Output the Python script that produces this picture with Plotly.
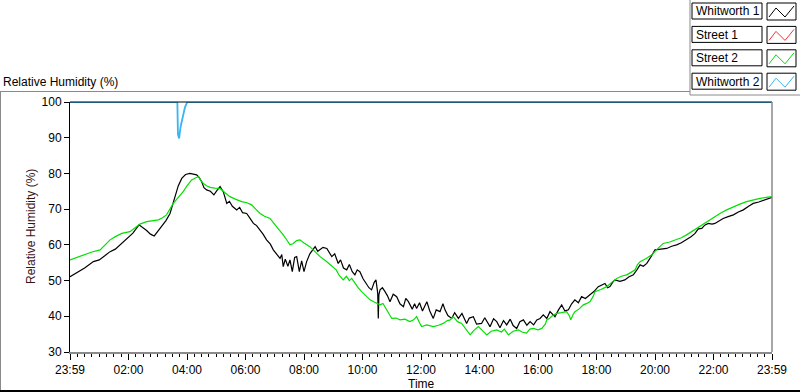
import plotly.graph_objects as go

# ---------------- data ----------------
series_names = ["Whitworth 1", "Street 1", "Street 2", "Whitworth 2"]
series_colors = ["#000000", "#ff3030", "#00e000", "#3ab4f2"]
series_widths = [1.2, 1.2, 1.2, 1.8]

x_tick_vals = [0, 2, 4, 6, 8, 10, 12, 14, 16, 18, 20, 22, 24]
x_tick_text = ["23:59", "02:00", "04:00", "06:00", "08:00", "10:00", "12:00",
               "14:00", "16:00", "18:00", "20:00", "22:00", "23:59"]
y_tick_vals = [30, 40, 50, 60, 70, 80, 90, 100]

# Whitworth 1 (black)
w1_t = [0.00, 0.25, 0.50, 0.80, 1.00, 1.20, 1.37, 1.55, 1.75, 1.94, 2.15, 2.36, 2.50, 2.62, 2.75, 2.88,
        3.00, 3.13, 3.28, 3.42, 3.59, 3.70, 3.82, 3.95, 4.10, 4.22, 4.33, 4.42, 4.50, 4.58, 4.67, 4.80,
        4.92, 5.02, 5.13, 5.24, 5.36, 5.45, 5.55, 5.70, 5.80, 5.90, 6.04, 6.15, 6.27, 6.38, 6.50, 6.60,
        6.72, 6.85, 6.95, 7.05, 7.18, 7.24, 7.29, 7.36, 7.45, 7.52, 7.60, 7.68, 7.75, 7.84, 7.92, 8.00,
        8.09, 8.20, 8.30, 8.38, 8.47, 8.55, 8.65, 8.78, 8.86, 8.95, 9.05, 9.17, 9.25, 9.35, 9.46, 9.55,
        9.65, 9.74, 9.82, 9.91, 10.02, 10.14, 10.22, 10.31, 10.40, 10.46, 10.52, 10.54, 10.56, 10.60,
        10.68, 10.77, 10.85, 10.94, 11.05, 11.17, 11.28, 11.40, 11.48, 11.57, 11.70, 11.78, 11.85,
        11.95, 12.05, 12.20, 12.30, 12.42, 12.52, 12.65, 12.75, 12.82, 12.92, 13.05, 13.15, 13.28,
        13.40, 13.56, 13.65, 13.79, 13.90, 14.07, 14.18, 14.36, 14.48, 14.59, 14.70, 14.82, 14.93,
        15.05, 15.15, 15.27, 15.38, 15.50, 15.62, 15.73, 15.85, 15.96, 16.07, 16.18, 16.30, 16.41,
        16.50, 16.58, 16.70, 16.81, 16.92, 17.04, 17.15, 17.26, 17.38, 17.49, 17.62, 17.78, 17.92,
        18.06, 18.18, 18.29, 18.38, 18.46, 18.55, 18.63, 18.80, 18.97, 19.10, 19.26, 19.38, 19.49,
        19.60, 19.72, 19.85, 20.00, 20.20, 20.40, 20.57, 20.74, 20.90, 21.08, 21.23, 21.37, 21.48,
        21.60, 21.70, 21.82, 21.95, 22.05, 22.20, 22.33, 22.50, 22.68, 22.85, 23.02, 23.20, 23.36,
        23.55, 23.70, 23.85, 24.00]
w1_v = [51.1, 52.3, 53.5, 55.3, 55.8, 57.0, 58.1, 58.8, 60.3, 61.5, 63.3, 65.6, 64.8, 64.0, 63.0, 62.5,
        63.8, 65.1, 66.8, 68.8, 73.5, 76.5, 78.6, 79.7, 80.0, 79.9, 79.6, 78.8, 77.7, 76.0, 75.4, 75.0,
        74.0, 75.2, 76.3, 74.9, 71.6, 72.2, 70.8, 69.8, 70.5, 69.0, 68.8, 67.5, 66.0, 65.4, 64.2, 63.0,
        61.4, 60.2, 58.6, 57.5, 56.2, 57.3, 53.9, 56.0, 54.0, 55.8, 52.5, 56.5, 56.7, 52.5, 55.5, 52.5,
        55.3, 57.5, 58.6, 59.5, 58.2, 58.6, 59.3, 59.0, 57.8, 56.7, 57.5, 54.8, 55.8, 53.5, 53.0, 54.5,
        52.5, 51.6, 53.0, 52.5, 50.5, 49.2, 48.0, 47.4, 49.5, 50.2, 46.5, 39.4, 46.0, 47.4,
        48.0, 46.9, 45.8, 44.1, 46.2, 45.5, 43.5, 42.7, 45.0, 44.1, 42.0, 43.5, 42.2,
        43.8, 41.5, 44.1, 41.5, 39.4, 41.8, 41.3, 43.5, 41.8, 40.2, 39.4, 41.0, 39.4,
        40.8, 38.0, 39.5, 39.9, 37.8, 38.0, 39.6, 37.1, 39.3, 38.5, 36.8, 38.8, 37.6,
        39.2, 37.4, 36.6, 38.5, 39.0, 37.5, 38.5, 37.6, 39.0, 39.4, 40.4, 39.4, 41.3,
        40.6, 39.9, 41.8, 43.2, 41.5, 41.8, 43.5, 44.6, 43.8, 45.5, 45.0, 46.0, 47.0,
        48.3, 48.8, 49.2, 48.0, 48.3, 49.5, 50.2, 49.8, 50.2, 51.0, 51.6, 53.0, 54.4,
        54.0, 54.8, 56.5, 58.6, 58.8, 59.0, 59.6, 60.0, 60.6, 61.4, 62.3, 63.2, 64.5,
        64.6, 65.5, 66.0, 65.8, 66.0, 66.8, 67.4, 67.9, 68.4, 69.2, 69.8, 70.8, 71.6,
        72.0, 72.4, 72.8, 73.3]

# Street 1 (red) - no visible data
s1_t = []
s1_v = []

# Street 2 (green)
s2_t = [0.00, 0.46, 0.75, 1.03, 1.20, 1.37, 1.55, 1.77, 2.05, 2.25, 2.39, 2.62, 2.85, 3.02, 3.15, 3.30,
        3.53, 3.70, 3.87, 4.00, 4.16, 4.30, 4.39, 4.48, 4.56, 4.68, 4.79, 4.95, 5.13, 5.30, 5.47, 5.65,
        5.87, 6.05, 6.21, 6.35, 6.50, 6.65, 6.84, 6.95, 7.07, 7.18, 7.29, 7.40, 7.52, 7.62, 7.75, 7.86,
        8.00, 8.20, 8.38, 8.55, 8.75, 9.00, 9.10, 9.20, 9.34, 9.45, 9.55, 9.63, 9.75, 9.85, 9.97,
        10.10, 10.26, 10.40, 10.60, 10.70, 10.83, 10.92, 11.00, 11.15, 11.28, 11.45, 11.62, 11.75,
        11.85, 11.95, 12.02, 12.20, 12.42, 12.60, 12.76, 12.90, 13.00, 13.10, 13.25, 13.39, 13.50,
        13.60, 13.68, 13.80, 13.96, 14.10, 14.25, 14.40, 14.59, 14.75, 14.85, 14.99, 15.15, 15.33,
        15.45, 15.61, 15.72, 15.84, 16.00, 16.13, 16.25, 16.30, 16.39, 16.50, 16.64, 16.80, 16.98,
        17.08, 17.12, 17.20, 17.26, 17.40, 17.55, 17.67, 17.78, 17.88, 17.95, 18.15, 18.35, 18.52,
        18.69, 18.85, 19.03, 19.18, 19.32, 19.40, 19.49, 19.70, 19.89, 20.10, 20.28, 20.50, 20.74,
        20.90, 21.08, 21.25, 21.43, 21.60, 21.77, 22.00, 22.22, 22.45, 22.68, 22.90, 23.13, 23.35,
        23.59, 23.80, 24.00]
s2_v = [55.8, 57.2, 58.0, 58.6, 60.0, 61.4, 62.3, 63.2, 63.7, 64.8, 65.8, 66.5, 66.7, 67.0, 67.5, 68.4,
        71.6, 73.2, 74.9, 76.5, 78.2, 78.8, 79.1, 78.0, 77.2, 76.5, 76.1, 75.9, 75.8, 74.6, 73.5, 72.8,
        72.1, 71.8, 71.2, 70.0, 68.8, 68.0, 67.4, 66.2, 65.1, 64.0, 62.8, 61.5, 60.0, 60.3, 61.2, 61.4,
        60.5, 59.5, 58.0, 56.7, 55.5, 53.9, 53.0, 51.5, 50.2, 51.2, 50.0, 50.6, 49.0, 48.0, 46.9,
        45.8, 44.6, 44.0, 43.2, 43.6, 41.8, 40.5, 39.4, 39.5, 39.0, 39.2, 38.5, 39.0,
        39.9, 38.2, 37.1, 37.6, 37.1, 37.5, 38.0, 38.8, 39.0, 39.9, 38.5, 38.0, 36.8,
        35.5, 34.8, 36.0, 37.1, 36.0, 34.8, 35.8, 36.2, 35.6, 36.4, 34.8, 35.8, 36.2,
        35.6, 35.3, 36.4, 36.6, 36.2, 36.6, 37.8, 39.0, 39.4, 40.2, 40.8, 41.0, 41.3,
        40.0, 39.0, 40.5, 41.3, 42.0, 43.2, 43.6, 44.1, 45.5, 46.9, 47.5, 48.3, 49.5,
        50.6, 51.2, 51.6, 52.3, 53.0, 54.5, 55.3, 56.2, 57.2, 59.0, 60.4, 60.8, 61.4,
        62.0, 62.8, 63.7, 64.6, 65.6, 66.5, 67.7, 68.8, 69.8, 70.7, 71.4, 72.1, 72.6,
        73.0, 73.3, 73.5]

# Whitworth 2 (blue)
w2_t = [0.00, 3.67, 3.69, 3.73, 3.78, 3.85, 3.93, 4.01, 24.00]
w2_v = [100.0, 100.0, 91.0, 89.8, 93.0, 96.0, 98.5, 100.0, 100.0]

series_t = [w1_t, s1_t, s2_t, w2_t]
series_v = [w1_v, s1_v, s2_v, w2_v]

# ---------------- layout geometry (pixels) ----------------
FIG_W, FIG_H = 800, 392
PL, PR, PT, PB = 70, 772, 102, 352  # plot area edges
FONT = "Liberation Sans, Arial, sans-serif"


def px2x(px):
    return (px - PL) / (PR - PL)


def py2y(py):
    return (PB - py) / (PB - PT)


fig = go.Figure()
for name, col, wd, t, v in zip(series_names, series_colors, series_widths, series_t, series_v):
    fig.add_trace(go.Scatter(x=t, y=v, mode="lines", name=name,
                             line=dict(color=col, width=wd), showlegend=False))

shapes = []
GRAY = "#8a8a8a"
# plot frame: top black, right gray
shapes.append(dict(type="line", xref="paper", yref="paper", x0=0, x1=1, y0=1, y1=1,
                   line=dict(color="black", width=1)))
shapes.append(dict(type="line", xref="paper", yref="paper", x0=1, x1=1, y0=0, y1=1,
                   line=dict(color=GRAY, width=1.5)))
# title underline
shapes.append(dict(type="line", xref="paper", yref="paper", x0=px2x(0), x1=px2x(690),
                   y0=py2y(91.5), y1=py2y(91.5), line=dict(color=GRAY, width=1)))
# outer left border
shapes.append(dict(type="line", xref="paper", yref="paper", x0=px2x(0.5), x1=px2x(0.5),
                   y0=py2y(91.5), y1=py2y(392), line=dict(color=GRAY, width=1)))
# outer bottom border
shapes.append(dict(type="line", xref="paper", yref="paper", x0=px2x(0), x1=px2x(800),
                   y0=py2y(391), y1=py2y(391), line=dict(color="black", width=2)))
# legend frame
shapes.append(dict(type="line", xref="paper", yref="paper", x0=px2x(690), x1=px2x(690),
                   y0=py2y(0), y1=py2y(95), line=dict(color=GRAY, width=1)))
shapes.append(dict(type="line", xref="paper", yref="paper", x0=px2x(690), x1=px2x(800),
                   y0=py2y(95), y1=py2y(95), line=dict(color=GRAY, width=1)))

annotations = []
# legend entries
for i, (name, col) in enumerate(zip(series_names, series_colors)):
    top = 3 + i * 23.4
    shapes.append(dict(type="rect", xref="paper", yref="paper",
                       x0=px2x(692), x1=px2x(762), y0=py2y(top + 16), y1=py2y(top),
                       line=dict(color="black", width=1), fillcolor="white"))
    annotations.append(dict(x=px2x(694), y=py2y(top + 8.5), xref="paper", yref="paper",
                            text=name, showarrow=False, xanchor="left", yanchor="middle",
                            font=dict(family=FONT, size=12, color="black")))
    sx0, sx1, sy0, sy1 = 767, 796, top, top + 17
    shapes.append(dict(type="rect", xref="paper", yref="paper",
                       x0=px2x(sx0), x1=px2x(sx1), y0=py2y(sy1), y1=py2y(sy0),
                       line=dict(color="black", width=1), fillcolor="white"))
    pts = [(sx0 + 2, sy1 - 3), (sx0 + 9, sy0 + 5), (sx0 + 18, sy1 - 3), (sx1 - 2, sy0 + 3)]
    path = "M " + " L ".join(f"{px2x(a):.5f},{py2y(b):.5f}" for a, b in pts)
    shapes.append(dict(type="path", xref="paper", yref="paper", path=path,
                       line=dict(color=col, width=1)))

# chart title
annotations.append(dict(x=px2x(1), y=py2y(82.5), xref="paper", yref="paper",
                        text="Relative Humidity (%)", showarrow=False,
                        xanchor="left", yanchor="middle",
                        font=dict(family=FONT, size=12, color="black")))
# y axis title
annotations.append(dict(x=px2x(31), y=0.5, xref="paper", yref="paper",
                        text="Relative Humidity (%)", showarrow=False, textangle=-90,
                        xanchor="center", yanchor="middle",
                        font=dict(family=FONT, size=12, color="#3a1414")))
# x axis title
annotations.append(dict(x=0.5, y=py2y(384), xref="paper", yref="paper",
                        text="Time", showarrow=False, xanchor="center", yanchor="middle",
                        font=dict(family=FONT, size=12, color="black")))

fig.update_layout(
    width=FIG_W, height=FIG_H,
    margin=dict(l=PL, r=FIG_W - PR, t=PT, b=FIG_H - PB, autoexpand=False),
    paper_bgcolor="white", plot_bgcolor="white",
    font=dict(family=FONT, size=12, color="black"),
    shapes=shapes, annotations=annotations,
    showlegend=False,
    xaxis=dict(range=[0, 24], tickmode="array", tickvals=x_tick_vals, ticktext=x_tick_text,
               ticks="outside", ticklen=6, tickwidth=1, tickcolor="black",
               minor=dict(tickmode="linear", tick0=0, dtick=0.25, ticks="outside",
                          ticklen=3, tickcolor="black", showgrid=False),
               showgrid=False, zeroline=False, showline=True, linecolor=GRAY, linewidth=1.5,
               tickfont=dict(family=FONT, size=12, color="black")),
    yaxis=dict(range=[30, 100], tickmode="array", tickvals=y_tick_vals,
               ticks="outside", ticklen=5, tickwidth=1, tickcolor="black",
               showgrid=False, zeroline=False, showline=True, linecolor="black", linewidth=1,
               tickfont=dict(family=FONT, size=12, color="black")),
)

fig.write_html("out.html", config={"displayModeBar": False},
               post_script="document.body.style.margin='0px';document.body.style.overflow='hidden';")
